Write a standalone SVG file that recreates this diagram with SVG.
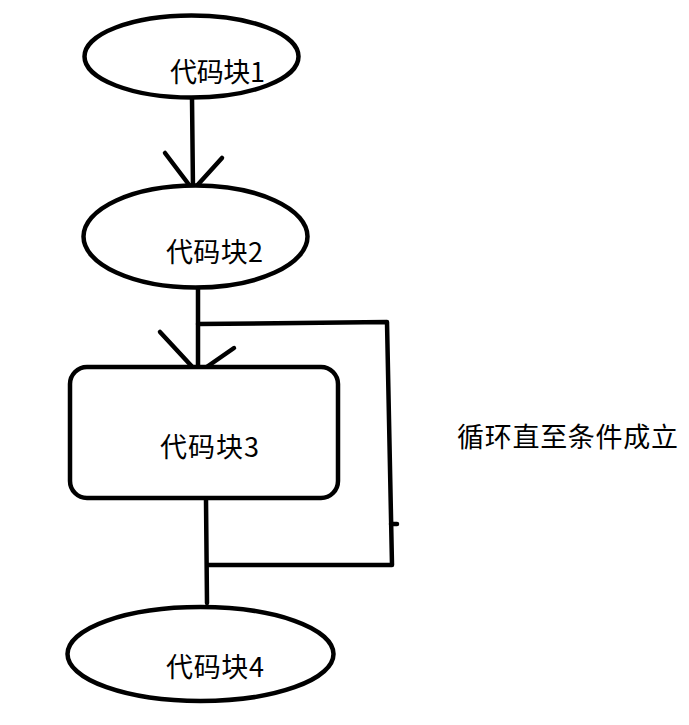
<svg xmlns="http://www.w3.org/2000/svg" width="689" height="725" viewBox="0 0 689 725">
<style>
.s{fill:none;stroke:#000;stroke-width:4.5;stroke-linecap:round;stroke-linejoin:round}
.n{fill:#fff;stroke:#000;stroke-width:4.5}
.t{font-family:"Noto Sans CJK SC","Microsoft YaHei",sans-serif;font-size:27px;fill:#000}
</style>
<rect width="689" height="725" fill="#fff"/>
<g id="connectors">
<path class="s" d="M192,98 L193,190"/>
<path class="s" d="M165,153 L193,190 L222,158"/>
<path class="s" d="M198,288 L198,373"/>
<path class="s" d="M198,324 L387,322 L392,565 L208,565"/>
<path class="s" d="M391,524 L397,524"/>
<path class="s" d="M160,332 L198,373 L234,348"/>
<path class="s" d="M206,500 L207,603"/>
</g>
<g id="node1">
<ellipse class="n" cx="191.5" cy="56.5" rx="107" ry="41"/>
<text class="t" x="170" y="82" textLength="95">代码块1</text>
</g>
<g id="node2">
<ellipse class="n" cx="195.5" cy="236.5" rx="112" ry="51"/>
<text class="t" x="166" y="262" textLength="97">代码块2</text>
</g>
<g id="node3">
<rect class="n" x="70" y="367" width="268" height="131" rx="17"/>
<text class="t" x="160" y="457" textLength="99">代码块3</text>
</g>
<g id="node4">
<ellipse class="n" cx="200.5" cy="654" rx="133" ry="47"/>
<text class="t" x="166" y="677" textLength="98">代码块4</text>
</g>
<g id="label">
<text class="t" x="457" y="447" textLength="221">循环直至条件成立</text>
</g>
</svg>
